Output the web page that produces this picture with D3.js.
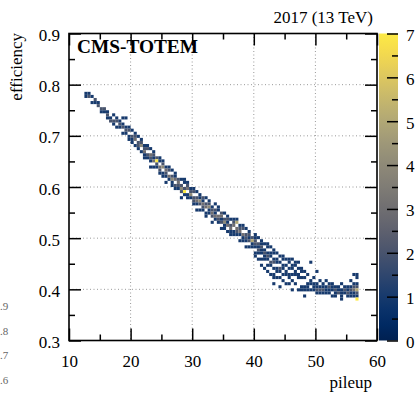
<!DOCTYPE html>
<html><head><meta charset="utf-8">
<script src="https://cdn.jsdelivr.net/npm/d3@7"></script>
<style>html,body{margin:0;padding:0;background:#fff;}svg{display:block}</style>
</head><body>
<svg id="c" width="419" height="394"></svg>
<script>
// ---- data ----
const xTicks = [10, 20, 30, 40, 50, 60];
const xMinor = [15, 25, 35, 45, 55];
const yTicks = [0.3, 0.4, 0.5, 0.6, 0.7, 0.8, 0.9];
const yMinor = [0.35, 0.45, 0.55, 0.65, 0.75, 0.85];
const zTicks = [0, 1, 2, 3, 4, 5, 6, 7];
const zMinor = [0.5, 1.5, 2.5, 3.5, 4.5, 5.5, 6.5];
const binWidth = 0.5;     // pileup bin width
const binHeight = 0.006;  // efficiency bin height
// each column: [pileup (bin low edge), efficiency of top bin (centre), counts going down one bin each]
const columns = [
[12.5, 0.783, 1,1],
[13.0, 0.783, 1,2],
[13.5, 0.777, 1,0,1],
[14.0, 0.771, 2,1],
[14.5, 0.765, 1,2],
[15.0, 0.759, 0,2,1],
[15.5, 0.753, 2,1],
[16.0, 0.747, 1,2,1],
[16.5, 0.741, 0,1,2],
[17.0, 0.741, 1,0,2,1],
[17.5, 0.735, 1,2,0,1],
[18.0, 0.729, 1,2,1],
[18.5, 0.735, 1,0,1,2,0,1],
[19.0, 0.735, 1,0,0,1,2,1],
[19.5, 0.717, 1,2,0,1,1],
[20.0, 0.711, 1,0,2,1,1],
[20.5, 0.705, 1,2,3,0,1],
[21.0, 0.699, 1,0,2,2,1],
[21.5, 0.693, 1,2,4,0,1],
[22.0, 0.687, 0,1,2,3,1,1],
[22.5, 0.681, 1,2,0,2,1],
[23.0, 0.675, 1,0,3,2,1,0,1],
[23.5, 0.669, 1,2,1,3,0,1],
[24.0, 0.663, 0,2,7,2,1],
[24.5, 0.657, 1,1,0,3,2,1],
[25.0, 0.651, 1,2,4,0,1,1],
[25.5, 0.645, 0,1,3,2,1,0,1],
[26.0, 0.639, 1,2,0,3,1],
[26.5, 0.633, 1,0,2,4,1,1],
[27.0, 0.627, 1,1,3,0,2,1],
[27.5, 0.621, 0,2,3,2,1],
[28.0, 0.615, 1,0,2,4,2,0,1],
[28.5, 0.615, 1,1,0,2,7,1],
[29.0, 0.609, 1,2,3,0,1,1],
[29.5, 0.603, 0,1,2,4,1],
[30.0, 0.597, 1,2,0,2,2,1],
[30.5, 0.591, 1,0,2,3,1,0,1],
[31.0, 0.585, 1,1,4,2,0,1],
[31.5, 0.585, 0,2,1,3,2,1],
[32.0, 0.579, 1,0,2,3,0,1,1],
[32.5, 0.573, 1,2,4,1,1],
[33.0, 0.567, 0,1,2,3,2,0,1],
[33.5, 0.567, 1,0,2,1,3,1],
[34.0, 0.561, 1,1,0,3,2,1],
[34.5, 0.555, 0,2,3,1,2,0,1],
[35.0, 0.549, 1,0,2,4,1,1],
[35.5, 0.543, 1,2,1,3,0,1],
[36.0, 0.543, 0,1,0,2,3,1,1],
[36.5, 0.537, 1,2,3,0,1,1],
[37.0, 0.537, 1,5,0,3,2,1],
[37.5, 0.531, 0,1,2,3,1,0,1],
[38.0, 0.525, 1,2,0,3,1,1],
[38.5, 0.519, 1,0,2,2,1,0,1],
[39.0, 0.513, 1,2,1,2,0,1],
[39.5, 0.507, 0,2,5,1,1],
[40.0, 0.507, 1,1,2,2,1,0,1,1],
[40.5, 0.501, 1,0,2,1,2,1,0,1],
[41.0, 0.495, 1,1,2,1,1,0,1,0,1],
[41.5, 0.489, 1,0,1,2,1,1,0,0,1],
[42.0, 0.489, 1,1,0,1,2,1,0,1,0,1],
[42.5, 0.483, 1,0,1,1,0,2,1,0,0,1],
[43.0, 0.477, 1,1,0,1,2,0,1,0,1,1,0,1],
[43.5, 0.471, 1,0,1,1,0,1,1,0,1],
[44.0, 0.465, 1,0,1,0,2,1,0,1,0,0,1],
[44.5, 0.465, 1,1,0,1,1,0,1,0,1],
[45.0, 0.459, 1,0,1,0,1,1,0,0,1],
[45.5, 0.459, 1,1,0,1,0,1,1,0,1],
[46.0, 0.459, 1,0,1,1,0,1,0,1,0,0,1],
[46.5, 0.453, 1,1,0,1,1,0,0,1],
[47.0, 0.453, 1,0,1,0,1,1,0,0,0,1],
[47.5, 0.441, 1,1,0,1,0,0,1,1],
[48.0, 0.435, 1,0,1,0,0,1,1,0,1],
[48.5, 0.429, 1,0,0,1,1,1],
[49.0, 0.453, 1,0,0,0,0,0,1,1,0,1],
[49.5, 0.423, 1,0,1,1,1],
[50.0, 0.435, 1,0,0,0,1,1,2,1],
[50.5, 0.417, 1,0,1,2,1],
[51.0, 0.411, 1,1,2,1],
[51.5, 0.417, 1,0,1,1,1],
[52.0, 0.411, 1,2,1,1],
[52.5, 0.411, 1,1,1,0,1],
[53.0, 0.405, 1,2,1,1],
[53.5, 0.405, 1,1,2],
[54.0, 0.411, 1,0,1,1,1,1],
[54.5, 0.405, 1,2,1],
[55.0, 0.405, 1,1,2,1],
[55.5, 0.417, 1,0,1,2,1,1],
[56.0, 0.429, 1,0,0,1,2,3,1,1],
[56.5, 0.429, 1,1,0,1,2,5,2,1,7]
];
const edgeLabels = [".9", ".8", ".7", ".6"];

// ---- drawing ----
const svg = d3.select('#c');
const FONT = '"Liberation Serif","DejaVu Serif",serif';
const L = 69, R = 377, T = 33.5, B = 340.5;
const x = d3.scaleLinear().domain([10, 60]).range([L, R]);
const y = d3.scaleLinear().domain([0.3, 0.9]).range([B, T]);
const z = d3.scaleLinear().domain([0, 7]).range([B, T]);
const color = d3.scaleSequential(d3.interpolateCividis).domain([0, 7]);

svg.append('rect').attr('width', 419).attr('height', 394).attr('fill', '#fff');

// grid
const grid = svg.append('g').attr('stroke', '#999').attr('stroke-width', 1).attr('stroke-dasharray', '1,2.5');
grid.selectAll('.gx').data(xTicks.slice(1, -1)).join('line')
  .attr('x1', d => x(d)).attr('x2', d => x(d)).attr('y1', T).attr('y2', B);
grid.selectAll('.gy').data(yTicks.slice(1, -1)).join('line')
  .attr('y1', d => y(d)).attr('y2', d => y(d)).attr('x1', L).attr('x2', R);

// cells
const cells = columns.flatMap(([p, eTop, ...counts]) =>
  counts.map((n, i) => ({p, e: eTop - i * binHeight, n})).filter(d => d.n > 0));
svg.append('g').selectAll('rect').data(cells).join('rect')
  .attr('x', d => x(d.p))
  .attr('width', d => x(d.p + binWidth) - x(d.p))
  .attr('y', d => y(d.e + binHeight / 2))
  .attr('height', d => y(d.e - binHeight / 2) - y(d.e + binHeight / 2))
  .attr('fill', d => color(d.n));

// axes
function style(g) {
  g.select('.domain').remove();
  g.selectAll('.tick line').attr('stroke', '#000').attr('stroke-width', 1.5);
  g.selectAll('text').attr('font-family', FONT).attr('font-size', 17).attr('fill', '#000');
}
svg.append('g').attr('transform', `translate(${L},0)`)
  .call(d3.axisLeft(y).tickValues(yTicks).tickSize(-12).tickPadding(9).tickFormat(d3.format('.1f')))
  .call(style).selectAll('text').attr('dy', '0.42em');
svg.append('g').attr('transform', `translate(${L},0)`)
  .call(d3.axisLeft(y).tickValues(yMinor).tickSize(-6).tickFormat('')).call(style);
svg.append('g').attr('transform', `translate(${R},0)`)
  .call(d3.axisRight(y).tickValues(yTicks).tickSize(-12).tickFormat('')).call(style);
svg.append('g').attr('transform', `translate(${R},0)`)
  .call(d3.axisRight(y).tickValues(yMinor).tickSize(-6).tickFormat('')).call(style);
svg.append('g').attr('transform', `translate(0,${B})`)
  .call(d3.axisBottom(x).tickValues(xTicks).tickSize(-12).tickPadding(14).tickFormat(d3.format('d')))
  .call(style);
svg.append('g').attr('transform', `translate(0,${B})`)
  .call(d3.axisBottom(x).tickValues(xMinor).tickSize(-6).tickFormat('')).call(style);
svg.append('g').attr('transform', `translate(0,${T})`)
  .call(d3.axisTop(x).tickValues(xTicks).tickSize(-12).tickFormat('')).call(style);
svg.append('g').attr('transform', `translate(0,${T})`)
  .call(d3.axisTop(x).tickValues(xMinor).tickSize(-6).tickFormat('')).call(style);

// frame
svg.append('rect').attr('x', L).attr('y', T).attr('width', R - L).attr('height', B - T)
  .attr('fill', 'none').attr('stroke', '#000').attr('stroke-width', 1.6);

// colour bar
const grad = svg.append('defs').append('linearGradient').attr('id', 'cb')
  .attr('x1', 0).attr('y1', 1).attr('x2', 0).attr('y2', 0);
grad.selectAll('stop').data(d3.range(0, 1.0001, 0.05)).join('stop')
  .attr('offset', d => d).attr('stop-color', d => d3.interpolateCividis(d));
const CBL = 379, CBR = 398;
svg.append('rect').attr('x', CBL).attr('y', T).attr('width', CBR - CBL).attr('height', B - T).attr('fill', 'url(#cb)');
svg.append('g').attr('transform', `translate(${CBR},0)`)
  .call(d3.axisRight(z).tickValues(zTicks).tickSize(-11).tickPadding(8).tickFormat(d3.format('d')))
  .call(style).selectAll('text').attr('dy', '0.4em');
svg.append('g').attr('transform', `translate(${CBR},0)`)
  .call(d3.axisRight(z).tickValues(zMinor).tickSize(-6).tickFormat('')).call(style);

// texts
svg.append('text').attr('x', 373).attr('y', 23).attr('text-anchor', 'end')
  .attr('font-family', FONT).attr('font-size', 17).text('2017 (13 TeV)');
svg.append('text').attr('x', 77).attr('y', 53).attr('font-family', FONT).attr('font-size', 18)
  .attr('font-weight', 'bold').attr('textLength', 121).attr('lengthAdjust', 'spacingAndGlyphs').text('CMS-TOTEM');
svg.append('text').attr('x', 372).attr('y', 388).attr('text-anchor', 'end')
  .attr('font-family', FONT).attr('font-size', 17).text('pileup');
svg.append('text').attr('transform', 'translate(22,33) rotate(-90)').attr('text-anchor', 'end')
  .attr('font-family', FONT).attr('font-size', 17).text('efficiency');
svg.append('g').selectAll('text').data(edgeLabels).join('text')
  .attr('x', 0).attr('y', (d, i) => 310 + i * 24.5)
  .attr('font-family', FONT).attr('font-size', 11).attr('fill', '#666').text(d => d);
</script>
</body></html>
